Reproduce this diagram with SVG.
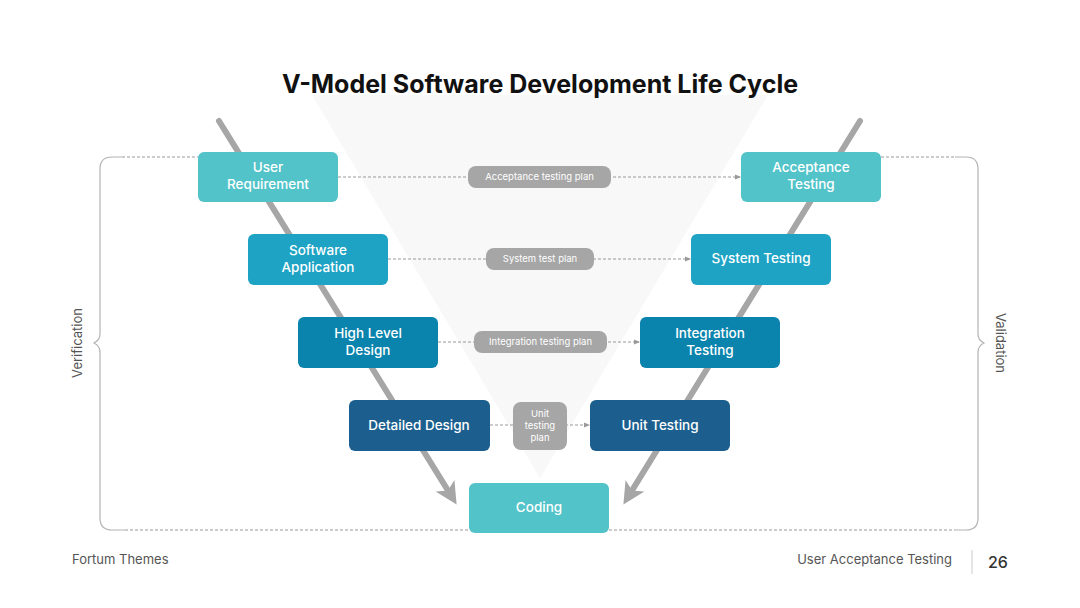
<svg xmlns="http://www.w3.org/2000/svg" width="1080" height="608" viewBox="0 0 1080 608">
<defs>
<style>
.node text{font-family:"Inter","DejaVu Sans",sans-serif;font-size:13.5px;font-weight:500;fill:#ffffff;text-anchor:middle}
.pill text{font-family:"Inter","DejaVu Sans",sans-serif;font-size:9.5px;fill:#ffffff;text-anchor:middle}
.pill rect{fill:#a6a6a6}
.dash{stroke:#999;stroke-width:1;stroke-dasharray:3 2;fill:none}
.arm{stroke:#a6a6a6;stroke-width:6;stroke-linecap:round;fill:none}
.brace{stroke:#b3b3b3;stroke-width:1.2;fill:none}
.side{font-family:"Inter","DejaVu Sans",sans-serif;font-size:13px;fill:#555}
.foot{font-family:"Inter","DejaVu Sans",sans-serif;font-size:13px;fill:#555}
</style>
<marker id="sm" viewBox="0 0 6 6" refX="5" refY="3" markerWidth="6" markerHeight="6" orient="auto" markerUnits="userSpaceOnUse">
<path d="M0 0.5 L6 3 L0 5.5 Z" fill="#999"/>
</marker>
<marker id="big" viewBox="0 0 10 10" refX="6" refY="5" markerWidth="22" markerHeight="22" orient="auto" markerUnits="userSpaceOnUse">
<path d="M0 0 L10 5 L0 10 L2.5 5 Z" fill="#a6a6a6"/>
</marker>
</defs>
<rect width="1080" height="608" fill="#ffffff"/>
<polygon points="312,95 768,95 540,478" fill="#f8f8f8"/>
<text x="540" y="93" text-anchor="middle" font-family="Inter,'DejaVu Sans',sans-serif" font-size="25" font-weight="700" fill="#111">V-Model Software Development Life Cycle</text>

<g id="brackets">
<path class="brace" d="M122 157 L112 157 Q100 157 100 169 L100 334 Q100 340 94 343 Q100 346 100 352 L100 518 Q100 530 112 530 L125 530"/>
<path class="brace" d="M955 157 L966 157 Q978 157 978 169 L978 334 Q978 340 984 343 Q978 346 978 352 L978 518 Q978 530 966 530 L955 530"/>
<line class="dash" x1="122" y1="157" x2="198" y2="157" stroke-dasharray="2 2"/>
<line class="dash" x1="881" y1="157" x2="955" y2="157" stroke-dasharray="2 2"/>
<line class="dash" x1="125" y1="530" x2="469" y2="530" stroke-dasharray="2 2"/>
<line class="dash" x1="609" y1="530" x2="955" y2="530" stroke-dasharray="2 2"/>
</g>
<text class="side" transform="translate(82,343) rotate(-90)" text-anchor="middle">Verification</text>
<text class="side" transform="translate(996,343) rotate(90)" text-anchor="middle">Validation</text>

<g id="connectors">
<line class="arm" x1="219" y1="121" x2="452" y2="497" marker-end="url(#big)"/>
<line class="arm" x1="860" y1="121" x2="628" y2="497" marker-end="url(#big)"/>
<line class="dash" x1="338" y1="177" x2="740" y2="177" marker-end="url(#sm)"/>
<line class="dash" x1="388" y1="259" x2="690" y2="259" marker-end="url(#sm)"/>
<line class="dash" x1="438" y1="342" x2="639" y2="342" marker-end="url(#sm)"/>
<line class="dash" x1="490" y1="425" x2="589" y2="425" marker-end="url(#sm)"/>
</g>

<g id="n-user-req" class="node"><rect x="198" y="152" width="140" height="50" rx="6" fill="#52c3c9"/><text x="268" y="172">User</text><text x="268" y="189">Requirement</text></g>
<g id="n-sw-app" class="node"><rect x="248" y="234" width="140" height="51" rx="6" fill="#1ea3c4"/><text x="318" y="255">Software</text><text x="318" y="272">Application</text></g>
<g id="n-hld" class="node"><rect x="298" y="317" width="140" height="51" rx="6" fill="#0b84ad"/><text x="368" y="338">High Level</text><text x="368" y="355">Design</text></g>
<g id="n-dd" class="node"><rect x="349" y="400" width="141" height="51" rx="6" fill="#1c5f8f"/><text x="419" y="430">Detailed Design</text></g>
<g id="n-coding" class="node"><rect x="469" y="483" width="140" height="50" rx="6" fill="#52c3c9"/><text x="539" y="512">Coding</text></g>
<g id="n-at" class="node"><rect x="741" y="152" width="140" height="50" rx="6" fill="#52c3c9"/><text x="811" y="172">Acceptance</text><text x="811" y="189">Testing</text></g>
<g id="n-st" class="node"><rect x="691" y="234" width="140" height="51" rx="6" fill="#1ea3c4"/><text x="761" y="263">System Testing</text></g>
<g id="n-it" class="node"><rect x="640" y="317" width="140" height="51" rx="6" fill="#0b84ad"/><text x="710" y="338">Integration</text><text x="710" y="355">Testing</text></g>
<g id="n-ut" class="node"><rect x="590" y="400" width="140" height="51" rx="6" fill="#1c5f8f"/><text x="660" y="430">Unit Testing</text></g>

<g id="p-atp" class="pill"><rect x="468" y="166" width="143" height="22" rx="8"/><text x="539.5" y="180">Acceptance testing plan</text></g>
<g id="p-stp" class="pill"><rect x="486" y="248" width="108" height="22" rx="8"/><text x="540" y="262">System test plan</text></g>
<g id="p-itp" class="pill"><rect x="474" y="331" width="133" height="22" rx="8"/><text x="540.5" y="345">Integration testing plan</text></g>
<g id="p-utp" class="pill"><rect x="513" y="402" width="54" height="48" rx="8"/><text x="540" y="417">Unit</text><text x="540" y="429">testing</text><text x="540" y="441">plan</text></g>

<text class="foot" x="72" y="564">Fortum Themes</text>
<text class="foot" x="952" y="564" text-anchor="end">User Acceptance Testing</text>
<line x1="972" y1="550" x2="972" y2="574" stroke="#ccc" stroke-width="1"/>
<text x="988" y="568" font-family="Inter,'DejaVu Sans',sans-serif" font-size="16" font-weight="500" fill="#333">26</text>
</svg>
